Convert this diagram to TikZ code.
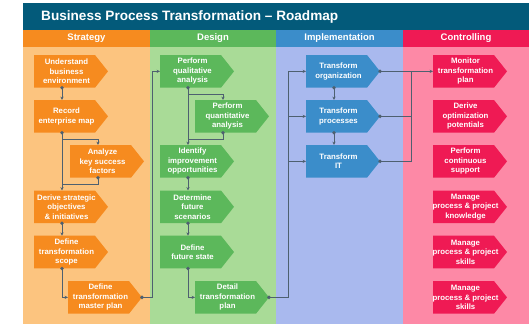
\documentclass[tikz,border=0pt]{standalone}
\usepackage{fontspec}
\setmainfont{Liberation Sans}
\usetikzlibrary{arrows.meta}
\definecolor{titlecol}{RGB}{3,90,122}
\definecolor{strH}{RGB}{246,139,31}
\definecolor{strB}{RGB}{252,196,127}
\definecolor{desH}{RGB}{92,184,91}
\definecolor{desB}{RGB}{169,219,151}
\definecolor{impH}{RGB}{59,141,202}
\definecolor{impB}{RGB}{169,185,238}
\definecolor{conH}{RGB}{239,26,84}
\definecolor{conB}{RGB}{253,137,166}
\definecolor{conncol}{RGB}{78,96,112}
\tikzset{
  boxtext/.style={text=white, font=\fontsize{7.8}{9.4}\selectfont\bfseries, align=center, inner sep=0pt, minimum width=64pt, minimum height=32.7pt},
  headtext/.style={text=white, font=\fontsize{9.5}{10}\selectfont\bfseries, inner sep=0pt},
  conn/.style={draw=conncol, line width=0.75pt},
  arr/.style={conn, -{Stealth[length=3.4pt,width=3.2pt]}},
}
\newcommand\chevbox[5]{%
  \fill[#4] (#2,#3) -- ++(61,0) -- ++(13,16.35) -- ++(-13,16.35) -- ++(-61,0) -- cycle;
  \path (#2,#3) ++(32.5,16.35) node[boxtext] (#1) {#5};
  \path (#2,#3) ++(28,0) coordinate (#1-n) ++(0,32.7) coordinate (#1-s);
  \path (#2,#3) ++(74,16.35) coordinate (#1-e) ++(-74,0) coordinate (#1-w);
}
\newcommand\dotat[1]{\fill[conncol] (#1) circle (1.9);}
\begin{document}
\begin{tikzpicture}[x=1pt,y=-1pt]
\useasboundingbox (0,0) rectangle (529,324);
\fill[white] (0,0) rectangle (529,324);
% title
\fill[titlecol] (23,3) rectangle (529,30);
\node[text=white, font=\fontsize{13.6}{14}\selectfont\bfseries, anchor=west, inner sep=0pt] (title) at (41,16.5) {Business Process Transformation -- Roadmap};
% columns
\fill[strB] (23,46.5) rectangle (150,324);
\fill[desB] (150,46.5) rectangle (276,324);
\fill[impB] (276,46.5) rectangle (403,324);
\fill[conB] (403,46.5) rectangle (529,324);
\fill[strH] (23,30) rectangle (150,46.5);
\fill[desH] (150,30) rectangle (276,46.5);
\fill[impH] (276,30) rectangle (403,46.5);
\fill[conH] (403,30) rectangle (529,46.5);
\node[headtext] (hs) at (86.5,38.5) {Strategy};
\node[headtext] (hd) at (213,38.5) {Design};
\node[headtext] (hi) at (339.5,38.5) {Implementation};
\node[headtext] (hc) at (466,38.5) {Controlling};
% strategy
\chevbox{s1}{34}{55}{strH}{Understand\\business\\environment}
\chevbox{s2}{34}{100}{strH}{Record\\enterprise map}
\chevbox{s3}{70}{145}{strH}{Analyze\\key success\\factors}
\chevbox{s4}{34}{190.5}{strH}{Derive strategic\\objectives\\\& initiatives}
\chevbox{s5}{34}{235.7}{strH}{Define\\transformation\\scope}
\chevbox{s6}{68}{281}{strH}{Define\\transformation\\master plan}
% design
\chevbox{d1}{160}{55}{desH}{Perform\\qualitative\\analysis}
\chevbox{d2}{195}{100}{desH}{Perform\\quantitative\\analysis}
\chevbox{d3}{160}{145}{desH}{Identify\\improvement\\opportunities}
\chevbox{d4}{160}{190.5}{desH}{Determine\\future\\scenarios}
\chevbox{d5}{160}{235.7}{desH}{Define\\future state}
\chevbox{d6}{195}{281}{desH}{Detail\\transformation\\plan}
% implementation
\chevbox{i1}{306}{55}{impH}{Transform\\organization}
\chevbox{i2}{306}{100}{impH}{Transform\\processes}
\chevbox{i3}{306}{145}{impH}{Transform\\IT}
% controlling
\chevbox{c1}{433}{55}{conH}{Monitor\\transformation\\plan}
\chevbox{c2}{433}{100}{conH}{Derive\\optimization\\potentials}
\chevbox{c3}{433}{145}{conH}{Perform\\continuous\\support}
\chevbox{c4}{433}{190.5}{conH}{Manage\\process \& project\\knowledge}
\chevbox{c5}{433}{235.7}{conH}{Manage\\process \& project\\skills}
\chevbox{c6}{433}{281}{conH}{Manage\\process \& project\\skills}
% connector helper coordinates
\coordinate (sbr) at (62,139);
\coordinate (sjn) at (62,184);
\coordinate (dbr) at (188,94);
\coordinate (djn) at (188,139);
\coordinate (vs) at (152,71.35);
\coordinate (vd) at (288,71.35);
\coordinate (vi) at (411,71.35);
% strategy connectors
\draw[arr] (s1-s) -- (s2-n);
\draw[arr] (s2-s) -- (s4-n);
\draw[arr] (sbr) -| (s3-n);
\draw[conn] (s3-s) |- (sjn);
\draw[arr] (s4-s) -- (s5-n);
\draw[arr] (s5-s) |- (s6-w);
\draw[arr] (s6-e) -| (vs) -- (d1-w);
% design connectors
\draw[arr] (d1-s) -- (d3-n);
\draw[arr] (dbr) -| (d2-n);
\draw[conn] (d2-s) |- (djn);
\draw[arr] (d3-s) -- (d4-n);
\draw[arr] (d4-s) -- (d5-n);
\draw[arr] (d5-s) |- (d6-w);
\draw[conn] (d6-e) -| (vd);
\draw[arr] (vd) -- (i1-w);
\draw[arr] (vd |- i2-w) -- (i2-w);
\draw[arr] (vd |- i3-w) -- (i3-w);
% implementation connectors
\draw[arr] (i1-s) -- (i2-n);
\draw[arr] (i2-s) -- (i3-n);
\draw[arr] (i1-e) -- (vi) -- (c1-w);
\draw[conn] (i2-e) -- (vi |- i2-e);
\draw[conn] (i3-e) -| (vi);
% dots
\dotat{s1-s}\dotat{s2-s}\dotat{s3-s}\dotat{s4-s}\dotat{s5-s}\dotat{s6-e}
\dotat{d1-s}\dotat{d2-s}\dotat{d3-s}\dotat{d4-s}\dotat{d5-s}\dotat{d6-e}
\dotat{i1-s}\dotat{i2-s}\dotat{i1-e}\dotat{i2-e}\dotat{i3-e}
\end{tikzpicture}
\end{document}
